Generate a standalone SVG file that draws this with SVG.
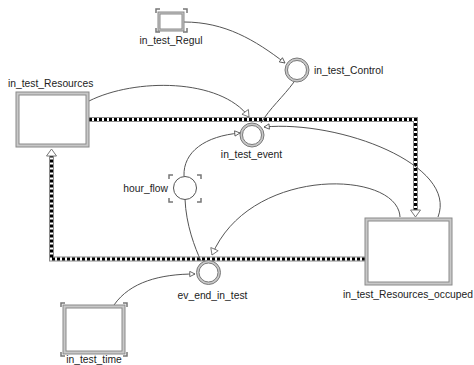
<svg xmlns="http://www.w3.org/2000/svg" width="474" height="365" viewBox="0 0 474 365">
<defs>
<style>
text{font-family:"Liberation Sans",Arial,sans-serif;font-size:10.3px;fill:#222}
.stockO{fill:#c8c8c8;stroke:#8a8a8a;stroke-width:1}
.stockI{fill:#fff;stroke:#8a8a8a;stroke-width:1}
.ringO{fill:#c8c8c8;stroke:#7a7a7a;stroke-width:1}
.ringI{fill:#fff;stroke:#7a7a7a;stroke-width:1}
.br{fill:none;stroke:#777;stroke-width:1.5}
.flowA{fill:none;stroke:#8a8a8a;stroke-width:5}
.flowB{fill:none;stroke:#fff;stroke-width:3}
.flowC{fill:none;stroke:#000;stroke-width:3;stroke-dasharray:3 2}
.link{fill:none;stroke:#555;stroke-width:1}
</style>
<marker id="ah" viewBox="0 0 8 8" refX="7" refY="4" markerWidth="7" markerHeight="7" orient="auto" markerUnits="userSpaceOnUse">
<path d="M1,1 L7,4 L1,7 Z" fill="#fff" stroke="#555" stroke-width="1"/>
</marker>
<marker id="big" viewBox="0 0 10 12" refX="9" refY="6" markerWidth="8" markerHeight="10" orient="auto" markerUnits="userSpaceOnUse">
<path d="M1,1 L9,6 L1,11 Z" fill="#fff" stroke="#666" stroke-width="1"/>
</marker>
</defs>

<g id="connectors">
<g id="flow-out">
<path class="flowA" d="M89,119.5 H415.5 V212"/>
<path class="flowB" d="M89,119.5 H415.5 V212"/>
<path class="flowC" d="M89,119.5 H415.5 V212"/>
<path d="M410.5,210 L420.5,210 L415.5,217 Z" fill="#fff" stroke="#777" stroke-width="1"/>
</g>
<g id="flow-back">
<path class="flowA" d="M365,259 H51.5 V154"/>
<path class="flowB" d="M365,259 H51.5 V154"/>
<path class="flowC" d="M365,259 H51.5 V154"/>
<path d="M46.5,156 L56.5,156 L51.5,149 Z" fill="#fff" stroke="#777" stroke-width="1"/>
</g>
<path class="link" d="M184,22 C225,22 255,40 285,63" marker-end="url(#ah)"/>
<path class="link" d="M89,101 C135,78 220,78 249,117" marker-end="url(#big)"/>
<path class="link" d="M294,82 C283,97 270,108 261,123"/>
<path class="link" d="M184,176 C183,152 205,136 240,133" marker-end="url(#ah)"/>
<path class="link" d="M438,217 C458,165 340,120 264,127" marker-end="url(#ah)"/>
<path class="link" d="M400,217 C398,170 250,165 212,255" marker-end="url(#big)"/>
<path class="link" d="M185,199 C186,225 195,248 201,261"/>
<path class="link" d="M114,305 C130,282 160,274 195,274" marker-end="url(#ah)"/>
</g>

<g id="in_test_Regul">
<rect class="stockO" x="158" y="12" width="26" height="19"/>
<rect class="stockI" x="160" y="14" width="22" height="15"/>
<path class="br" d="M156,13 V9 H160 M183,9 H187 V13 M156,28 V32 H160 M183,32 H187 V28"/>
<text x="171" y="44" text-anchor="middle">in_test_Regul</text>
</g>

<g id="in_test_Resources">
<rect class="stockO" x="16" y="92" width="73" height="55"/>
<rect class="stockI" x="19" y="95" width="67" height="49"/>
<text x="8" y="87">in_test_Resources</text>
</g>

<g id="in_test_Control">
<circle class="ringO" cx="297" cy="70" r="12"/>
<circle class="ringI" cx="297" cy="70" r="9.5"/>
<text x="314" y="74">in_test_Control</text>
</g>

<g id="in_test_event">
<circle class="ringO" cx="252" cy="135" r="12"/>
<circle class="ringI" cx="252" cy="135" r="9.5"/>
<text x="251.5" y="158" text-anchor="middle">in_test_event</text>
</g>

<g id="hour_flow">
<circle cx="185" cy="188" r="11.5" fill="#fff" stroke="#555" stroke-width="1"/>
<path class="br" d="M169,179 V175 H173 M197,175 H201 V179 M169,198 V202 H173 M197,202 H201 V198"/>
<text x="168" y="192" text-anchor="end">hour_flow</text>
</g>

<g id="ev_end_in_test">
<circle class="ringO" cx="208.5" cy="272.5" r="12"/>
<circle class="ringI" cx="208.5" cy="272.5" r="9.5"/>
<text x="212.5" y="299" text-anchor="middle">ev_end_in_test</text>
</g>

<g id="in_test_Resources_occuped">
<rect class="stockO" x="365" y="218" width="87" height="67"/>
<rect class="stockI" x="368" y="221" width="81" height="61"/>
<text x="343" y="298">in_test_Resources_occuped</text>
</g>

<g id="in_test_time">
<rect class="stockO" x="63" y="305" width="62" height="49"/>
<rect class="stockI" x="66" y="308" width="56" height="43"/>
<path class="br" d="M61,307 V303 H65 M123,303 H127 V307 M61,352 V356 H65 M123,356 H127 V352"/>
<text x="94" y="363" text-anchor="middle" font-size="9.8">in_test_time</text>
</g>
</svg>
